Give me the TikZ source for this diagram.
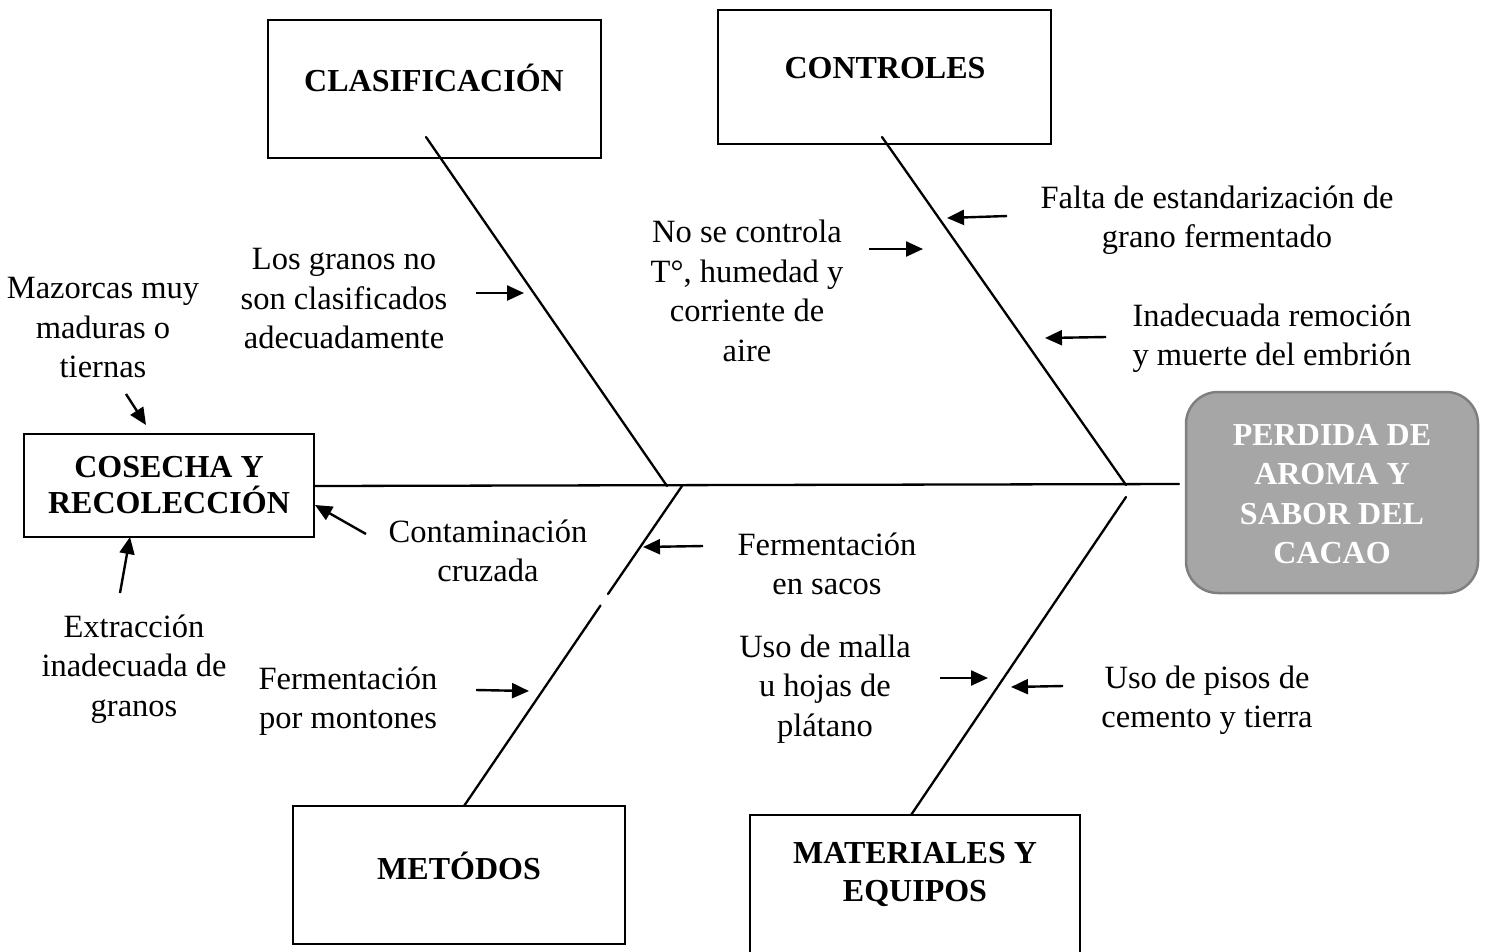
\documentclass[tikz,border=0pt]{standalone}
\usepackage{fontspec}
\setmainfont{Liberation Serif}
\usetikzlibrary{arrows.meta}
\begin{document}
\begin{tikzpicture}[x=1pt,y=-1pt,
  box/.style={draw=black,line width=2.2pt,fill=white,inner sep=0pt},
  lbl/.style={font=\fontsize{32.5}{39.5}\selectfont,align=center,inner sep=0pt},
  blbl/.style={font=\bfseries\fontsize{32}{36}\selectfont,align=center,inner sep=0pt},
  bone/.style={line width=2.3pt,line cap=round},
  arr/.style={line width=2.4pt,-{Triangle[length=17pt,width=15pt]}}]
\useasboundingbox (0,0) rectangle (1487,951);
\clip (0,0) rectangle (1487,951);
% boxes
\node[box,minimum width=333pt,minimum height=138pt] (clas) at (434.5,89) {};
\node[blbl] (clast) at (434,78) {CLASIFICACIÓN};
\node[box,minimum width=333pt,minimum height=134pt] (ctrl) at (884.5,77) {};
\node[blbl] (ctrlt) at (885,68) {CONTROLES};
\node[box,minimum width=290pt,minimum height=103pt] (cos) at (169,485.5) {};
\node[blbl] (cost) at (169,485) {COSECHA Y\\RECOLECCIÓN};
\node[box,minimum width=332pt,minimum height=138pt] (met) at (459,875) {};
\node[blbl] (mett) at (459,866) {METÓDOS};
\node[box,minimum width=330pt,minimum height=160pt] (mat) at (915,895) {};
\node[blbl,font=\bfseries\fontsize{32}{38}\selectfont] (matt) at (915,874) {MATERIALES Y\\EQUIPOS};
\node[draw={rgb,255:red,127;green,127;blue,127},fill={rgb,255:red,166;green,166;blue,166},
  line width=2.5pt,rounded corners=32pt,minimum width=292pt,minimum height=201pt,inner sep=0pt]
  (eff) at (1332,492.5) {};
\node[blbl,text=white,font=\bfseries\fontsize{32}{39.5}\selectfont] (efft) at (1332,494)
  {PERDIDA DE\\AROMA Y\\SABOR DEL\\CACAO};
% spine and bones
\coordinate (sL) at (314,486);
\coordinate (sR) at (1179,484);
\draw[bone] (sL) -- (sR);
\coordinate (c1a) at (426,137); \coordinate (c1b) at (667,486);
\coordinate (c2a) at (882,137); \coordinate (c2b) at (1126,485);
\coordinate (m1a) at (682,486); \coordinate (m1g1) at (608,594);
\coordinate (m1g2) at (600.5,605.5); \coordinate (m1b) at (464,806);
\coordinate (m2a) at (1126,497); \coordinate (m2b) at (911,815);
\draw[bone] (c1a) -- (c1b);
\draw[bone] (c2a) -- (c2b);
\draw[bone] (m1a) -- (m1g1);
\draw[bone] (m1g2) -- (m1b);
\draw[bone] (m2a) -- (m2b);
% labels
\node[lbl] (granos) at (344,299) {Los granos no\\son clasificados\\adecuadamente};
\node[lbl] (mazorcas) at (103,328) {Mazorcas muy\\maduras o\\tiernas};
\node[lbl] (nocon) at (747,291) {No se controla\\T°, humedad y\\corriente de\\aire};
\node[lbl] (falta) at (1217,220) {Falta de estandarización de\\grano fermentado};
\node[lbl] (inad) at (1272,338) {Inadecuada remoción\\y muerte del embrión};
\node[lbl] (conta) at (488,551) {Contaminación\\cruzada};
\node[lbl] (sacos) at (827,564) {Fermentación\\en sacos};
\node[lbl] (extr) at (134,669) {Extracción\\inadecuada de\\granos};
\node[lbl] (mont) at (348,701) {Fermentación\\por montones};
\node[lbl] (malla) at (825,689) {Uso de malla\\u hojas de\\plátano};
\node[lbl] (pisos) at (1207,700) {Uso de pisos de\\cemento y tierra};
% arrows
\coordinate (a1s) at (476,293); \coordinate (a1e) at (524,293);
\coordinate (a2s) at (869,249); \coordinate (a2e) at (923,249);
\coordinate (a3s) at (1007,216); \coordinate (a3e) at (947,218);
\coordinate (a4s) at (1106,337); \coordinate (a4e) at (1045,338);
\coordinate (a5s) at (126,394); \coordinate (a5e) at (146,425);
\coordinate (a6s) at (366,534); \coordinate (a6e) at (315,505);
\coordinate (a7s) at (120,593); \coordinate (a7e) at (130,537);
\coordinate (a8s) at (703,546); \coordinate (a8e) at (643,547);
\coordinate (a9s) at (476,690); \coordinate (a9e) at (529,691);
\coordinate (a10s) at (940,678); \coordinate (a10e) at (988,678);
\coordinate (a11s) at (1063,686); \coordinate (a11e) at (1011,687);
\foreach \i in {1,...,11} {\draw[arr] (a\i s) -- (a\i e);}
\end{tikzpicture}
\end{document}
